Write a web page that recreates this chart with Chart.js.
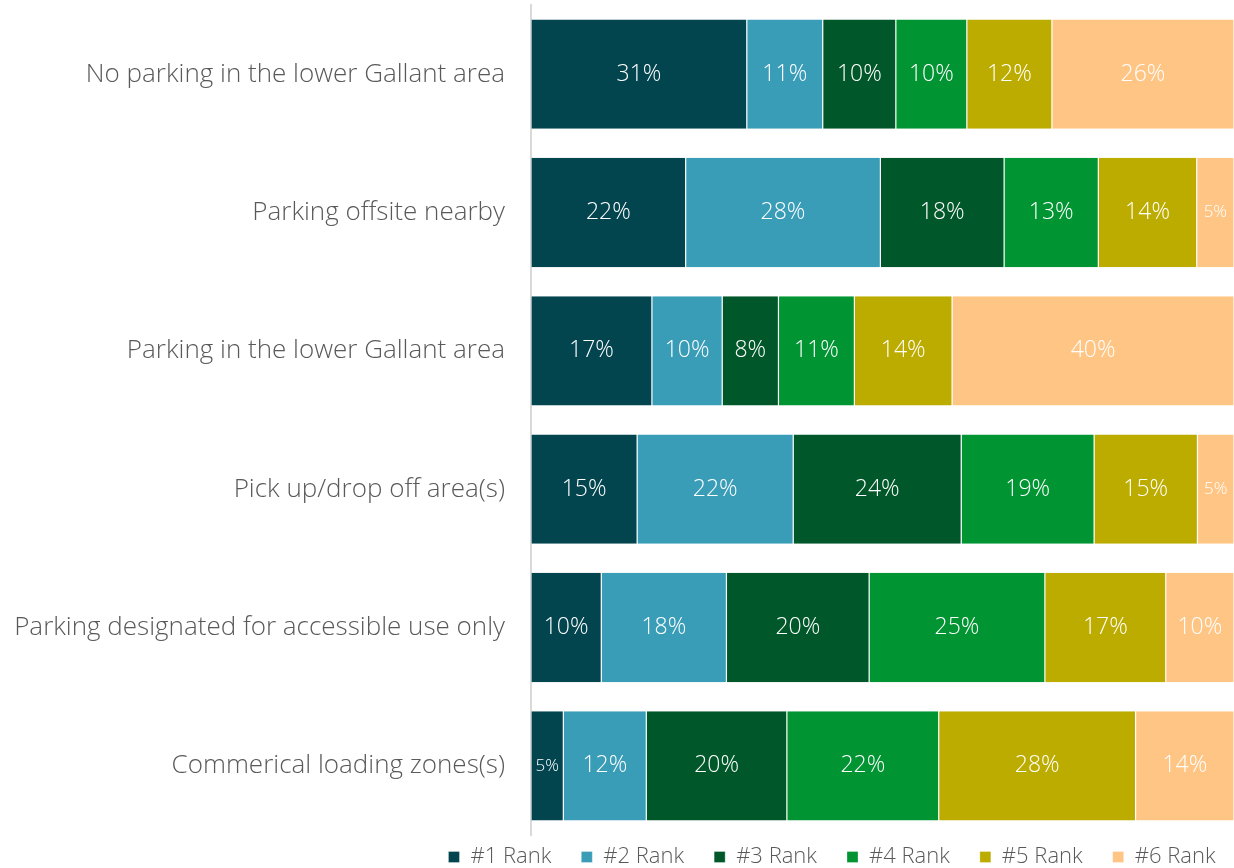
<!DOCTYPE html>
<html>
<head>
<meta charset="utf-8">
<script src="https://cdn.jsdelivr.net/npm/chart.js@4.4.1/dist/chart.umd.min.js"></script>
<style>
html,body{margin:0;padding:0;background:#fff;}
#wrap{width:1234px;height:868px;}
</style>
</head>
<body>
<div id="wrap"><canvas id="c" width="1234" height="868"></canvas></div>
<script>
const categories = [
  "No parking in the lower Gallant area",
  "Parking offsite nearby",
  "Parking in the lower Gallant area",
  "Pick up/drop off area(s)",
  "Parking designated for accessible use only",
  "Commerical loading zones(s)"
];
const seriesNames = ["#1 Rank", "#2 Rank", "#3 Rank", "#4 Rank", "#5 Rank", "#6 Rank"];
const rank1 = [30.7, 22.0, 17.2, 15.1, 10.0, 4.6];
const rank2 = [10.8, 27.7, 10.0, 22.2, 17.8, 11.8];
const rank3 = [10.4, 17.6, 8.0, 23.9, 20.3, 20.0];
const rank4 = [10.1, 13.4, 10.8, 18.9, 25.0, 21.6];
const rank5 = [12.1, 14.0, 13.9, 14.7, 17.2, 28.0];
const rank6 = [25.9, 5.3, 40.1, 5.2, 9.7, 14.0];
const colors = ["#02454F", "#3A9DB8", "#00582A", "#009432", "#BDAC00", "#FFC584"];

const FONT = "'Open Sans', Lato, sans-serif";
const allSeries = [rank1, rank2, rank3, rank4, rank5, rank6];

const labelPlugin = {
  id: 'barLabels',
  afterDatasetsDraw(chart) {
    const ctx = chart.ctx;
    ctx.save();
    ctx.textAlign = 'center';
    ctx.textBaseline = 'middle';
    ctx.fillStyle = '#ffffff';
    chart.data.datasets.forEach((ds, di) => {
      const meta = chart.getDatasetMeta(di);
      meta.data.forEach((el, i) => {
        const v = ds.data[i];
        const w = Math.abs(el.x - el.base);
        const size = w < 45 ? 17 : 23;
        ctx.font = '300 ' + size + 'px ' + FONT;
        ctx.fillText(Math.round(v) + '%', (el.x + el.base) / 2, el.y);
      });
    });
    ctx.restore();
  }
};

const LEGEND_PAD = 30;
const LEGEND_FONT = 22;
const legendShift = {
  id: 'legendShift',
  afterLayout(chart) {
    const lg = chart.legend;
    if (!lg) return;
    const dx = 832 - (lg.left + lg.right) / 2;
    lg.left += dx;
    lg.right += dx;
    lg.top = 857 - LEGEND_PAD - LEGEND_FONT / 2;
    lg.bottom = chart.height;
  }
};

new Chart(document.getElementById('c'), {
  type: 'bar',
  data: {
    labels: categories,
    datasets: allSeries.map((d, i) => ({
      label: seriesNames[i],
      data: d,
      backgroundColor: colors[i],
      borderColor: '#ffffff',
      borderWidth: {left: 0.6, right: 0.6, top: 0, bottom: 0},
      borderSkipped: false,
      categoryPercentage: 1,
      barPercentage: 0.79
    }))
  },
  options: {
    indexAxis: 'y',
    responsive: false,
    animation: false,
    layout: {padding: {top: 5, right: 0, bottom: 0, left: 0}},
    scales: {
      x: {stacked: true, min: 0, max: 100, display: false},
      y: {
        stacked: true,
        grid: {display: false, drawTicks: false},
        border: {display: true, color: '#D9D9D9', width: 2},
        ticks: {color: '#595959', padding: 26, font: {family: FONT, size: 26, weight: '300'}},
        afterFit(scale) {
          scale.width = 531;
          scale.paddingTop = 0;
          scale.paddingBottom = 0;
        }
      }
    },
    plugins: {
      legend: {
        position: 'bottom',
        maxHeight: 33,
        labels: {
          color: '#595959',
          boxWidth: 11,
          boxHeight: 11,
          padding: LEGEND_PAD,
          font: {family: FONT, size: LEGEND_FONT, weight: '300'}
        }
      },
      tooltip: {enabled: false}
    }
  },
  plugins: [labelPlugin, legendShift]
});
</script>
</body>
</html>
